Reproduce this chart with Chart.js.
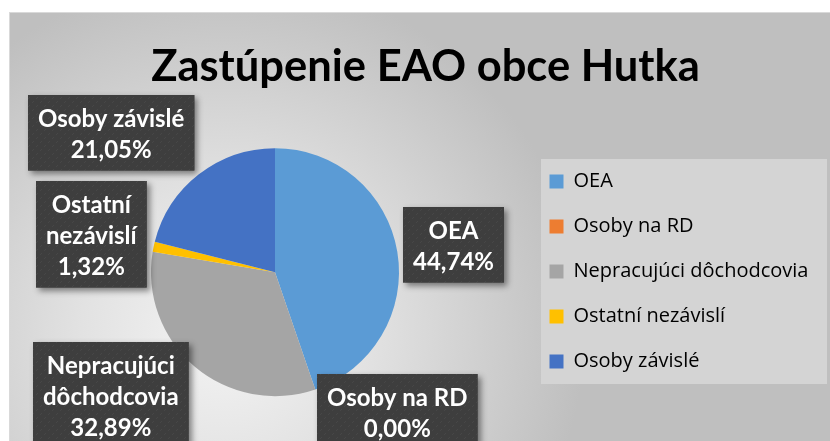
<!DOCTYPE html>
<html>
<head>
<meta charset="utf-8">
<script src="https://cdn.jsdelivr.net/npm/chart.js@4.4.1/dist/chart.umd.min.js"></script>
<style>
  html, body { margin: 0; padding: 0; background: #ffffff; overflow: hidden; width: 830px; height: 441px; }
  #bg {
    position: absolute; left: 9px; top: 12px; width: 830px; height: 440px;
    border-left: 1px solid #d9d9d9; border-top: 1px solid #d9d9d9;
    background: radial-gradient(circle 360px at 215px 320px, #f4f4f4 0%, #e2e2e2 40%, #bfbfbf 100%);
  }
  #c { position: absolute; left: 0; top: 0; }
</style>
</head>
<body>
<div id="bg"></div>
<canvas id="c" width="830" height="462"></canvas>
<script>
// ---- data ----
const categories = ['OEA', 'Osoby na RD', 'Nepracujúci dôchodcovia', 'Ostatní nezávislí', 'Osoby závislé'];
const values = [34, 0, 25, 1, 16];
const colors = ['#5B9BD5', '#ED7D31', '#A5A5A5', '#FFC000', '#4472C4'];
const titleText = 'Zastúpenie EAO obce Hutka';

// ---- label styling (placement nudges relative to radial anchor) ----
const labelWrap = [false, false, true, true, false];
const labelNudge = [[-3, 3], [63, -34], [-45, -17], [-4, 0], [-51, 6]];
const LABEL_GAP = 60;

function makePattern(ctx) {
  const pc = document.createElement('canvas');
  pc.width = 8; pc.height = 8;
  const p = pc.getContext('2d');
  p.fillStyle = '#3e3e3e';
  p.fillRect(0, 0, 8, 8);
  p.fillStyle = '#474747';
  p.fillRect(5, 1, 1, 1); p.fillRect(4, 2, 1, 1);
  p.fillRect(1, 5, 1, 1); p.fillRect(0, 6, 1, 1);
  return ctx.createPattern(pc, 'repeat');
}

const layoutFix = {
  id: 'layoutFix',
  afterLayout(chart) {
    const lg = chart.legend;
    lg.left = 524.5; lg.top = 146.5; lg.width = 300; lg.height = 270;
    lg.right = lg.left + lg.width; lg.bottom = lg.top + lg.height;
    const tb = chart.titleBlock;
    tb.left = 21; tb.right = 830; tb.width = 809;
  },
  beforeDraw(chart) {
    const ctx = chart.ctx;
    ctx.save();
    ctx.fillStyle = '#d4d4d4';
    ctx.fillRect(541, 159, 286, 225);
    ctx.restore();
  }
};

const labelBoxes = {
  id: 'labelBoxes',
  afterDatasetsDraw(chart) {
    const ctx = chart.ctx;
    const meta = chart.getDatasetMeta(0);
    const data = chart.data.datasets[0].data;
    const total = data.reduce((a, b) => a + b, 0);
    const pattern = makePattern(ctx);
    const lineH = 31, padX = 10, padTop = 8.5, padBottom = 5;
    ctx.save();
    ctx.font = 'bold 24px Lato';
    meta.data.forEach((arc, i) => {
      const p = arc.getProps(['x', 'y', 'startAngle', 'endAngle', 'outerRadius'], true);
      const mid = (p.startAngle + p.endAngle) / 2;
      const d = p.outerRadius + LABEL_GAP;
      const cx = p.x + Math.cos(mid) * d + labelNudge[i][0];
      const cy = p.y + Math.sin(mid) * d + labelNudge[i][1];
      const pct = (data[i] / total * 100).toFixed(2).replace('.', ',') + '%';
      const lines = (labelWrap[i] ? chart.data.labels[i].split(' ') : [chart.data.labels[i]]).concat([pct]);
      const w = Math.max(...lines.map(t => ctx.measureText(t).width)) + 2 * padX;
      const h = lines.length * lineH + padTop + padBottom;
      const x0 = Math.round(cx - w / 2), y0 = Math.round(cy - h / 2);
      ctx.save();
      ctx.shadowColor = 'rgba(0,0,0,0.45)';
      ctx.shadowBlur = 6;
      ctx.shadowOffsetX = 3;
      ctx.shadowOffsetY = 3;
      ctx.fillStyle = '#3e3e3e';
      ctx.fillRect(x0, y0, w, h);
      ctx.restore();
      ctx.fillStyle = pattern;
      ctx.fillRect(x0, y0, w, h);
      ctx.fillStyle = '#ffffff';
      ctx.textAlign = 'center';
      ctx.textBaseline = 'middle';
      lines.forEach((t, k) => {
        ctx.fillText(t, x0 + w / 2, y0 + padTop + lineH / 2 + k * lineH);
      });
    });
    ctx.restore();
  }
};

new Chart(document.getElementById('c'), {
  type: 'pie',
  data: {
    labels: categories,
    datasets: [{
      data: values,
      backgroundColor: colors,
      borderWidth: 0,
      clip: false
    }]
  },
  plugins: [layoutFix, labelBoxes],
  options: {
    responsive: false,
    animation: false,
    devicePixelRatio: 1,
    radius: 124,
    layout: { padding: { left: 0, right: 280, top: 0, bottom: 10.4 } },
    plugins: {
      title: {
        display: true,
        text: titleText,
        color: '#000000',
        font: { family: 'Lato', weight: 'bold', size: 43.5 },
        padding: { top: 40.5, bottom: 0 }
      },
      legend: {
        display: true,
        position: 'chartArea',
        align: 'start',
        labels: {
          boxWidth: 14,
          boxHeight: 14,
          padding: 25,
          color: '#000000',
          font: { family: 'Open Sans', size: 20 }
        }
      },
      tooltip: { enabled: false }
    }
  }
});
</script>
</body>
</html>
